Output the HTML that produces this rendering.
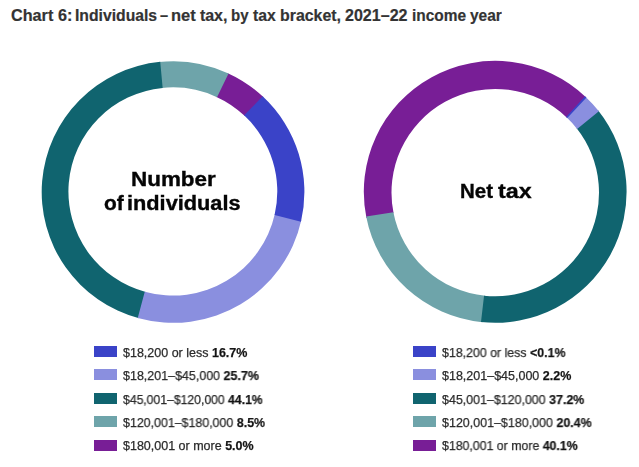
<!DOCTYPE html>
<html><head><meta charset="utf-8"><style>
html,body{margin:0;padding:0;background:#fff;width:639px;height:467px;overflow:hidden;position:relative;font-family:"Liberation Sans",sans-serif}
.t{position:absolute;top:5.5px;transform-origin:0 0;-webkit-text-stroke:0.2px #333;font-size:16px;font-weight:bold;color:#333;white-space:nowrap;line-height:20px}
.ct{position:absolute;font-weight:bold;color:#050505;font-size:20px;line-height:23px;white-space:nowrap;transform-origin:0 0;word-spacing:-2.5px;-webkit-text-stroke:0.35px #050505;will-change:transform}
.sw{position:absolute;width:22.9px;height:11.2px}
.lt{position:absolute;font-size:12.5px;line-height:18px;color:#2b2b2b;-webkit-text-stroke:0.25px #2b2b2b;white-space:nowrap;will-change:transform;transform-origin:0 0}
.lt b{color:#111}
</style></head><body>
<svg width="639" height="467" style="position:absolute;left:0;top:0">
<path d="M227.31 72.88A131.35 130.8 0 0 1 263.63 97.28L244.88 116.11A104.45 104.1 0 0 0 216.00 96.70Z" fill="#781e96"/>
<path d="M158.86 61.97A131.35 130.8 0 0 1 228.56 73.45L216.99 97.15A104.45 104.1 0 0 0 161.57 88.01Z" fill="#6ea4aa"/>
<path d="M139.05 318.34A131.35 130.8 0 0 1 160.23 61.82L162.66 87.90A104.45 104.1 0 0 0 145.82 292.05Z" fill="#10646f"/>
<path d="M301.29 220.31A131.35 130.8 0 0 1 137.73 317.98L144.76 291.77A104.45 104.1 0 0 0 274.82 214.03Z" fill="#8a8fdf"/>
<path d="M262.63 96.34A131.35 130.8 0 0 1 300.98 221.65L274.58 215.09A104.45 104.1 0 0 0 244.08 115.37Z" fill="#3a43c8"/>
<path d="M366.44 217.91A131.4 130.95 0 0 1 585.98 97.13L566.93 117.63A103.75 103.7 0 0 0 393.58 213.27Z" fill="#781e96"/>
<path d="M482.38 322.13A131.4 130.95 0 0 1 366.17 216.56L393.37 212.21A103.75 103.7 0 0 0 485.13 295.81Z" fill="#6ea4aa"/>
<path d="M598.03 110.28A131.4 130.95 0 0 1 481.01 321.98L484.05 295.69A103.75 103.7 0 0 0 576.45 128.05Z" fill="#10646f"/>
<path d="M585.48 96.66A131.4 130.95 0 0 1 598.89 111.36L577.12 128.90A103.75 103.7 0 0 0 566.54 117.25Z" fill="#8a8fdf"/>
<path d="M584.98 96.19A131.4 130.95 0 0 1 586.48 97.60L567.32 118.00A103.75 103.7 0 0 0 566.14 116.88Z" fill="#3a43c8"/>
</svg>
<div class="t" style="left:11.29px;transform:scaleX(1.012)">Chart</div>
<div class="t" style="left:58.20px;transform:scaleX(1.008)">6:</div>
<div class="t" style="left:75.42px;transform:scaleX(0.982)">Individuals</div>
<div class="t" style="left:160.30px;transform:scaleX(0.911)">&ndash;</div>
<div class="t" style="left:170.97px;transform:scaleX(1.030)">net</div>
<div class="t" style="left:199.90px;transform:scaleX(1.000)">tax,</div>
<div class="t" style="left:230.96px;transform:scaleX(0.939)">by</div>
<div class="t" style="left:253.10px;transform:scaleX(0.983)">tax</div>
<div class="t" style="left:279.71px;transform:scaleX(0.993)">bracket,</div>
<div class="t" style="left:345.00px;transform:scaleX(1.003)">2021&ndash;22</div>
<div class="t" style="left:411.53px;transform:scaleX(0.965)">income</div>
<div class="t" style="left:470.30px;transform:scaleX(0.967)">year</div>
<div class="ct" style="left:130.9px;top:167.7px;transform:scaleX(1.122)">Number</div>
<div class="ct" style="left:104px;top:191.9px;transform:scaleX(1.044)">of</div>
<div class="ct" style="left:127.1px;top:191.9px;transform:scaleX(1.087)">individuals</div>
<div class="ct" style="left:459.6px;top:180px;transform:scaleX(1.023)">Net</div>
<div class="ct" style="left:497.9px;top:180px;transform:scaleX(1.166)">tax</div>
<div class="sw" style="left:93.9px;top:345.80px;background:#3a43c8"></div><div class="lt" style="left:122.5px;top:343.60px;transform:scaleX(1)">$18,200 or less <b>16.7%</b></div>
<div class="sw" style="left:93.9px;top:369.25px;background:#8a8fdf"></div><div class="lt" style="left:122.5px;top:367.05px;transform:scaleX(0.997)">$18,201&ndash;$45,000 <b>25.7%</b></div>
<div class="sw" style="left:93.9px;top:392.70px;background:#10646f"></div><div class="lt" style="left:122.5px;top:390.50px;transform:scaleX(0.975)">$45,001&ndash;$120,000 <b>44.1%</b></div>
<div class="sw" style="left:93.9px;top:416.15px;background:#6ea4aa"></div><div class="lt" style="left:122.5px;top:413.95px;transform:scaleX(0.992)">$120,001&ndash;$180,000 <b>8.5%</b></div>
<div class="sw" style="left:93.9px;top:439.60px;background:#781e96"></div><div class="lt" style="left:122.5px;top:437.40px;transform:scaleX(1)">$180,001 or more <b>5.0%</b></div>
<div class="sw" style="left:412.8px;top:345.80px;background:#3a43c8"></div><div class="lt" style="left:442.1px;top:343.60px;transform:scaleX(0.989)">$18,200 or less <b>&lt;0.1%</b></div>
<div class="sw" style="left:412.8px;top:369.25px;background:#8a8fdf"></div><div class="lt" style="left:442.1px;top:367.05px;transform:scaleX(1)">$18,201&ndash;$45,000 <b>2.2%</b></div>
<div class="sw" style="left:412.8px;top:392.70px;background:#10646f"></div><div class="lt" style="left:442.1px;top:390.50px;transform:scaleX(0.994)">$45,001&ndash;$120,000 <b>37.2%</b></div>
<div class="sw" style="left:412.8px;top:416.15px;background:#6ea4aa"></div><div class="lt" style="left:442.1px;top:413.95px;transform:scaleX(0.997)">$120,001&ndash;$180,000 <b>20.4%</b></div>
<div class="sw" style="left:412.8px;top:439.60px;background:#781e96"></div><div class="lt" style="left:442.1px;top:437.40px;transform:scaleX(0.986)">$180,001 or more <b>40.1%</b></div>
</body></html>
